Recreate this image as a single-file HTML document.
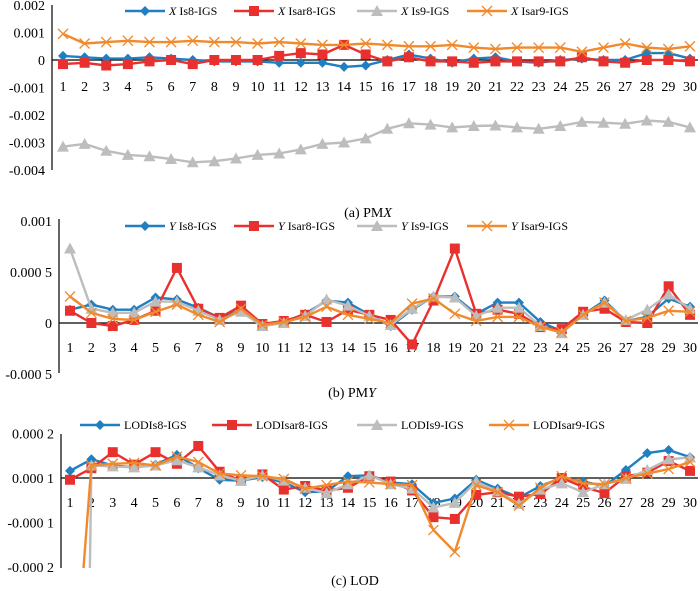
<!DOCTYPE html>
<html><head><meta charset="utf-8"><style>
html,body{margin:0;padding:0;background:#fff;overflow:hidden;}
svg{display:block;font-family:"Liberation Serif",serif;}
</style></head><body>
<svg id="chart" width="700" height="591" viewBox="0 0 700 591"></svg>
<script>
const cats = Array.from({length:30},(_,i)=>String(i+1));
// (a) PMX, units 0.001
const xIs8 = [0.15,0.1,0.05,0.05,0.1,0.05,0,-0.05,-0.05,-0.05,-0.1,-0.1,-0.1,-0.25,-0.2,0,0.2,0.05,-0.1,0.05,0.1,-0.05,-0.1,0,0.05,0,0,0.25,0.25,0.05];
const xIsar8 = [-0.15,-0.1,-0.2,-0.15,-0.05,0,-0.15,0,0,0,0.15,0.25,0.2,0.55,0.2,-0.05,0.1,-0.05,-0.05,-0.1,-0.05,-0.05,-0.05,-0.05,0.1,-0.05,-0.1,0,0,-0.05];
const xIs9 = [-3.15,-3.05,-3.3,-3.45,-3.5,-3.6,-3.72,-3.68,-3.58,-3.45,-3.4,-3.25,-3.05,-3.0,-2.85,-2.5,-2.3,-2.35,-2.45,-2.4,-2.38,-2.45,-2.5,-2.4,-2.25,-2.28,-2.32,-2.2,-2.25,-2.45];
const xIsar9 = [0.95,0.6,0.65,0.7,0.65,0.65,0.7,0.65,0.65,0.6,0.65,0.6,0.55,0.55,0.6,0.55,0.5,0.5,0.55,0.45,0.4,0.45,0.45,0.45,0.3,0.45,0.6,0.45,0.4,0.5];
const aTicks = [2,1,0,-1,-2,-3,-4];
const aTickLabels = ["0.002","0.001","0","-0.001","-0.002","-0.003","-0.004"];
// (b) PMY, units 0.0001
const yIs8 = [1.3,1.8,1.3,1.3,2.5,2.3,1.5,0.5,1.3,-0.2,0.1,0.9,2.2,2,0.8,-0.3,1.3,2.6,2.6,0.9,2,2,0.1,-0.8,0.8,2.2,0.2,0.6,2.4,1.6];
const yIsar8 = [1.2,0,-0.3,0.3,1.2,5.4,1.4,0.5,1.7,-0.1,0.2,0.8,0.1,1.3,0.8,0.3,-2.1,2.2,7.3,0.9,1.3,0.9,-0.4,-0.6,1.1,1.4,0.1,0,3.6,0.8];
const yIs9 = [7.3,1.4,1,1,2.1,2.1,1.2,0.3,1.1,-0.3,0,0.7,2.3,1.7,0.7,-0.2,1.4,2.6,2.5,0.7,1.5,1.5,-0.3,-1,0.8,2,0.3,1.3,2.8,1.4];
const yIsar9 = [2.6,1,0.4,0.3,1.1,1.8,0.8,0.1,1.4,-0.2,0.1,0.6,1.6,0.8,0.4,0,1.9,2.4,0.9,0.2,0.6,0.6,-0.4,-0.9,0.8,2,0.2,0.5,1.2,1.1];
const bTicks = [10,5,0,-5];
const bTickLabels = ["0.001","0.000 5","0","-0.000 5"];
// (c) LOD, units 0.00001 relative to the drawn zero line
const lIs8 = [1.6,4.2,2.8,2.4,3,5.2,2.2,-0.4,-0.6,0.2,-1,-3.2,-3,0.4,0.6,-1,-1.4,-5.6,-4.6,-0.4,-2.4,-4.4,-1.8,0,-0.8,-1.8,1.8,5.6,6.3,4.7];
const lIsar8 = [-0.4,2.2,5.8,3,5.8,3.2,7.2,1.4,-0.6,0.8,-2.6,-1.8,-2.8,-2.2,0.4,-0.8,-2.8,-8.8,-9.2,-3.8,-3.2,-4.2,-3.6,0,-2,-3.4,0.4,1.2,3.8,1.6];
const lIs9 = [-330,2.8,2.6,2.4,2.8,4,2.4,0.6,-0.6,0.6,-0.6,-2.2,-3.4,-1.4,0.6,-1.4,-2.4,-6.6,-5.6,-0.8,-3,-5.8,-2.6,-1.2,-3.2,-1.4,-0.2,1.8,4.2,4.6];
const lIsar9 = [-60,2.8,3.2,3.4,2.8,4.8,3.6,1,0.6,0.4,-0.2,-2.4,-1.6,-0.8,-1,-1.4,-1.6,-11.7,-16.6,-1.6,-3.2,-6.2,-2.2,0.4,-1.2,-1.4,0,1,2,3.6];
const cTicks = [10,0,-10,-20];
const cTickLabels = ["0.000 2","0.000 1","-0.000 1","-0.000 2"];

const NS="http://www.w3.org/2000/svg";
const svg=document.getElementById('chart');
function mk(tag,attrs,parent){const e=document.createElementNS(NS,tag);for(const k in attrs)e.setAttribute(k,attrs[k]);(parent||svg).appendChild(e);return e;}
const BLUE="#1f7fc0",RED="#e8312f",GRAY="#bdbdbd",ORANGE="#f08a2c";

function marker(g,type,x,y,color){
  let m;
  if(type==='d') m=mk('polygon',{points:`${x},${y-5} ${x+5},${y} ${x},${y+5} ${x-5},${y}`,fill:color},g);
  else if(type==='s') m=mk('rect',{x:x-5,y:y-5,width:10,height:10,fill:color},g);
  else if(type==='t') m=mk('polygon',{points:`${x},${y-6} ${x+6},${y+5} ${x-6},${y+5}`,fill:color},g);
  else { m=mk('path',{d:`M${x-5},${y-5}L${x+5},${y+5}M${x-5},${y+5}L${x+5},${y-5}`,stroke:color,'stroke-width':1.3,fill:'none'},g); }
  return m;
}

function panel(p){
  const g=mk('g',{});
  
  
  const xs=i=>p.x0+i*p.dx;
  const ys=v=>p.y0-v*p.py;
  const ax=mk('line',{x1:p.axisX,y1:p.top,x2:p.axisX,y2:p.bottom,stroke:'#000','stroke-width':1.2},g);
  
  
  const zl=mk('line',{x1:p.axisX,y1:ys(0),x2:698,y2:ys(0),stroke:'#000','stroke-width':1.2},g);
  
  
  p.ticks.forEach((t,i)=>{
    const tx=mk('text',{x:p.axisX-7,y:ys(t)+5,'text-anchor':'end','font-size':14},g);
    tx.textContent=p.tickLabels[i];
    
    
  });
  cats.forEach((c,i)=>{
    const tx=mk('text',{x:xs(i),y:p.labelY,'text-anchor':'middle','font-size':14},g);
    tx.textContent=c;
    
    
  });
  const sg=mk('g',{},g);
  p.series.forEach(s=>{
    const sgi=mk('g',{},sg);
    
    
    // build polyline, cutting segments at the bottom of the plot area
    const raw=s.data.map((v,i)=>[xs(i),ys(v)]);
    const pts=[];
    for(let i=0;i<raw.length;i++){
      const [x,y]=raw[i];
      if(y<=p.bottom){ 
        if(i>0 && raw[i-1][1]>p.bottom){const [x0,y0]=raw[i-1];const t=(p.bottom-y0)/(y-y0);pts.push([x0+t*(x-x0),p.bottom]);}
        pts.push([x,y]);
      } else if(i>0 && raw[i-1][1]<=p.bottom){
        const [x0,y0]=raw[i-1];const t=(p.bottom-y0)/(y-y0);pts.push([x0+t*(x-x0),p.bottom]);
      }
    }
    mk('polyline',{points:pts.map(q=>q[0].toFixed(1)+','+q[1].toFixed(1)).join(' '),fill:'none',stroke:s.color,'stroke-width':2.4,'stroke-linejoin':'round'},sgi);
    s.data.forEach((v,i)=>{
      if(ys(v)>p.bottom) return;
      const m=marker(sgi,s.m,xs(i),ys(v),s.color);
      
      
    });
  });
  p.series.forEach((s,i)=>{
    const lg=mk('g',{},g);
    
    
    const mx=p.legX[i], ly=p.legY;
    mk('line',{x1:mx-20,y1:ly,x2:mx+20,y2:ly,stroke:s.color,'stroke-width':2.6},lg);
    marker(lg,s.m,mx,ly,s.color);
    const tx=mk('text',{x:mx+24,y:ly+4,'font-size':12},lg);
    if(s.pre){const ts=mk('tspan',{'font-style':'italic'},tx);ts.textContent=s.pre;const t2=mk('tspan',{},tx);t2.textContent=' '+s.label;}
    else tx.textContent=s.label;
  });
  const cap=mk('text',{x:p.capX,y:p.capY,'text-anchor':'middle','font-size':14},g);
  
  
  cap.appendChild(document.createTextNode(p.cap[0]));
  if(p.cap[1]){const ts=mk('tspan',{'font-style':'italic'},cap);ts.textContent=p.cap[1];}
}

panel({id:'pmx',axisX:52,top:5,bottom:170,x0:63,dx:21.62,y0:60,py:27.5,labelY:91,ticks:aTicks,tickLabels:aTickLabels,
  legX:[145,254,377,487],legY:11,capX:368,capY:217,cap:['(a) PM','X'],
  series:[{key:'xis8',data:xIs8,color:BLUE,m:'d',pre:'X',label:'Is8-IGS'},
          {key:'xisar8',data:xIsar8,color:RED,m:'s',pre:'X',label:'Isar8-IGS'},
          {key:'xis9',data:xIs9,color:GRAY,m:'t',pre:'X',label:'Is9-IGS'},
          {key:'xisar9',data:xIsar9,color:ORANGE,m:'x',pre:'X',label:'Isar9-IGS'}]});
panel({id:'pmy',axisX:59,top:219,bottom:373,x0:70,dx:21.38,y0:323,py:10.2,labelY:352,ticks:bTicks,tickLabels:bTickLabels,
  legX:[145,254,377,487],legY:226,capX:352,capY:397,cap:['(b) PM','Y'],
  series:[{key:'yis8',data:yIs8,color:BLUE,m:'d',pre:'Y',label:'Is8-IGS'},
          {key:'yisar8',data:yIsar8,color:RED,m:'s',pre:'Y',label:'Isar8-IGS'},
          {key:'yis9',data:yIs9,color:GRAY,m:'t',pre:'Y',label:'Is9-IGS'},
          {key:'yisar9',data:yIsar9,color:ORANGE,m:'x',pre:'Y',label:'Isar9-IGS'}]});
panel({id:'lod',axisX:61,top:434,bottom:568,x0:70,dx:21.38,y0:478,py:4.45,labelY:507,ticks:cTicks,tickLabels:cTickLabels,
  legX:[100,232,377,509],legY:425,capX:355,capY:585,cap:['(c) LOD'],
  series:[{key:'lis8',data:lIs8,color:BLUE,m:'d',label:'LODIs8-IGS'},
          {key:'lisar8',data:lIsar8,color:RED,m:'s',label:'LODIsar8-IGS'},
          {key:'lis9',data:lIs9,color:GRAY,m:'t',label:'LODIs9-IGS'},
          {key:'lisar9',data:lIsar9,color:ORANGE,m:'x',label:'LODIsar9-IGS'}]});
</script>
</body></html>
